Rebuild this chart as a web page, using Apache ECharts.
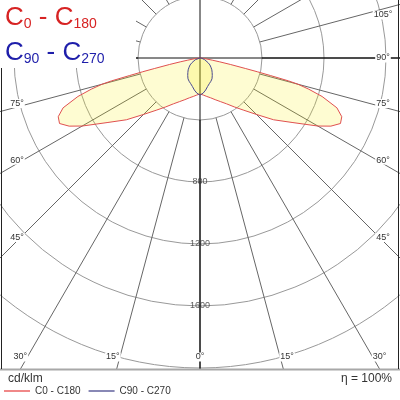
<!DOCTYPE html>
<html><head><meta charset="utf-8">
<script src="https://cdn.jsdelivr.net/npm/echarts@6/dist/echarts.min.js"></script>
<style>html,body{margin:0;padding:0;background:#fff}#c{width:400px;height:400px}</style>
</head><body><div id="c"></div>
<script>
// ---- data (cd/klm vs gamma angle in degrees, symmetric planes) ----
const gammaC0 = [0,5,10,15,20,25,30,35,40,45,50,55,60,62.5,65,67.5,70,72.5,74,75,75.5,76,76.5,77,78,79,80,83,86,90];
const intensityC0 = [232,240,252,266,286,310,341,385,440,515,620,725,878,952,1000,990,940,826,730,655,590,470,380,300,200,130,80,30,10,0];
const gammaC90 = [0,5,10,15,20,25,30,35,40,45,50,55,60,70,80,90];
const intensityC90 = [239,228,210,190,176,166,155,138,122,108,92,78,60,32,12,0];
const radiusTickLabels = [800,1200,1600];
const angleTickLabels = [0,15,30,45,60,75,90,105];
const seriesNames = ['C0 - C180','C90 - C270'];
const unitText = 'cd/klm';
const etaText = '\u03B7 = 100%';

// ---- layout ----
const CX = 200, CY = 58, R = 372, RMAX = 2400;
const FONT = '"Liberation Sans", Arial, sans-serif';

function toPolar(gam, val) {
  const out = [];
  for (let i = gam.length - 1; i > 0; i--) out.push([val[i], 360 - gam[i]]);
  for (let i = 0; i < gam.length; i++) out.push([val[i], gam[i]]);
  return out;
}

function labelPos(theta, side) {
  const t = theta * Math.PI / 180;
  const s = Math.sin(t), c = Math.cos(t);
  let r = 183 / s;
  if (c > 0) r = Math.min(r, 299 / c);
  if (!isFinite(r)) r = 299;
  let x = CX + side * r * s, y = CY + r * c;
  if (Math.abs(y - 357) < 0.5 && theta > 0) { x += side * 7; }
  else if (theta > 90) { y += 6; }
  else if (theta > 0 && theta < 90) { y -= 3.5; }
  return [x, y];
}

const angleGraphics = [];
angleTickLabels.forEach(a => {
  [1, -1].forEach(side => {
    if (a === 0 && side === -1) return;
    const p = labelPos(a, side);
    angleGraphics.push({
      type: 'text', z: 56, x: p[0], y: p[1],
      style: { text: a + '\u00B0', fill: '#333', font: '9px ' + FONT, align: 'center', verticalAlign: 'middle',
               backgroundColor: '#fff', padding: [0, 1] }
    });
  });
});

const chart = echarts.init(document.getElementById('c'), null, { renderer: 'canvas' });
chart.setOption({
  animation: false,
  backgroundColor: '#fff',
  polar: [
    { center: [CX, CY], radius: [R * 400 / RMAX, R] },
    { center: [CX, CY], radius: R }
  ],
  angleAxis: [
    { polarIndex: 0, type: 'value', min: 0, max: 360, interval: 15, startAngle: 270, clockwise: false,
      axisLine: { show: false }, axisTick: { show: false }, axisLabel: { show: false },
      splitLine: { show: true, lineStyle: { color: ['#111', '#666', '#666', '#666', '#666', '#666'], width: 1 } } },
    { polarIndex: 1, type: 'value', min: 0, max: 360, interval: 90, startAngle: 270, clockwise: false,
      axisLine: { show: false }, axisTick: { show: false }, axisLabel: { show: false },
      splitLine: { show: true, lineStyle: { color: '#111', width: 1 } } }
  ],
  radiusAxis: [
    { polarIndex: 0, type: 'value', min: 400, max: RMAX, interval: 400,
      axisLine: { show: false }, axisTick: { show: false }, axisLabel: { show: false },
      splitLine: { show: true, lineStyle: { color: '#999', width: 1 } } },
    { polarIndex: 1, type: 'value', min: 0, max: RMAX,
      axisLine: { show: false }, axisTick: { show: false }, axisLabel: { show: false },
      splitLine: { show: false } }
  ],
  legend: {
    z: 70, left: 4, top: 386, itemWidth: 26, itemHeight: 1, itemGap: 8, icon: 'rect', padding: 0,
    textStyle: { fontSize: 10, color: '#333', fontFamily: FONT },
    data: [
      { name: seriesNames[0], itemStyle: { color: '#e01010' }, lineStyle: { color: '#e01010' } },
      { name: seriesNames[1], itemStyle: { color: '#10106a' }, lineStyle: { color: '#10106a' } }
    ]
  },
  series: [
    { name: seriesNames[0], type: 'line', coordinateSystem: 'polar', polarIndex: 1, symbol: 'none',
      data: toPolar(gammaC0, intensityC0), z: 3,
      lineStyle: { color: '#e05050', width: 1 }, itemStyle: { color: '#e05050' },
      areaStyle: { color: 'rgba(250,240,0,0.25)' } },
    { name: seriesNames[1], type: 'line', coordinateSystem: 'polar', polarIndex: 1, symbol: 'none',
      data: toPolar(gammaC90, intensityC90), z: 4,
      lineStyle: { color: '#4a4a90', width: 1 }, itemStyle: { color: '#4a4a90' },
      areaStyle: { color: 'rgba(250,240,0,0.25)' } },
    { name: 'radiusLabels', type: 'scatter', coordinateSystem: 'polar', polarIndex: 1, symbolSize: 0, z: 5,
      data: radiusTickLabels.map(v => [v, 0]),
      label: { show: true, position: 'inside', formatter: p => String(p.value[0]), fontSize: 9, color: '#333', fontFamily: FONT },
      silent: true }
  ],
  graphic: [
    { type: 'rect', z: 50, shape: { x: 0, y: 370, width: 400, height: 30 }, style: { fill: '#fff' } },
    { type: 'rect', z: 58, shape: { x: 0, y: 0, width: 136, height: 68 }, style: { fill: '#fff' } },
    { type: 'line', z: 55, shape: { x1: 0, y1: 369.5, x2: 400, y2: 369.5 }, style: { stroke: '#a8a8a8', lineWidth: 2 } },
    { type: 'line', z: 55, shape: { x1: 1.5, y1: 68, x2: 1.5, y2: 369 }, style: { stroke: '#222', lineWidth: 1 } },
    { type: 'line', z: 55, shape: { x1: 398.5, y1: 0, x2: 398.5, y2: 369 }, style: { stroke: '#222', lineWidth: 1 } },
    { type: 'text', z: 60, x: 5, y: 5,
      style: { text: '{b|C}{s|0}{b| - C}{s|180}', fill: 'rgb(215,35,35)', verticalAlign: 'top',
               rich: { b: { fontSize: 26, fontFamily: FONT, fill: 'rgb(215,35,35)', verticalAlign: 'bottom' },
                       s: { fontSize: 14, fontFamily: FONT, fill: 'rgb(215,35,35)', verticalAlign: 'bottom' } } } },
    { type: 'text', z: 60, x: 5, y: 40,
      style: { text: '{b|C}{s|90}{b| - C}{s|270}', fill: 'rgb(30,30,170)', verticalAlign: 'top',
               rich: { b: { fontSize: 26, fontFamily: FONT, fill: 'rgb(30,30,170)', verticalAlign: 'bottom' },
                       s: { fontSize: 14, fontFamily: FONT, fill: 'rgb(30,30,170)', verticalAlign: 'bottom' } } } },
    { type: 'text', z: 60, x: 8, y: 379, style: { text: unitText, fill: '#333', font: '12px ' + FONT, verticalAlign: 'middle' } },
    { type: 'text', z: 60, x: 392, y: 379, style: { text: etaText, fill: '#333', font: '12px ' + FONT, align: 'right', verticalAlign: 'middle' } }
  ].concat(angleGraphics)
});
</script></body></html>
